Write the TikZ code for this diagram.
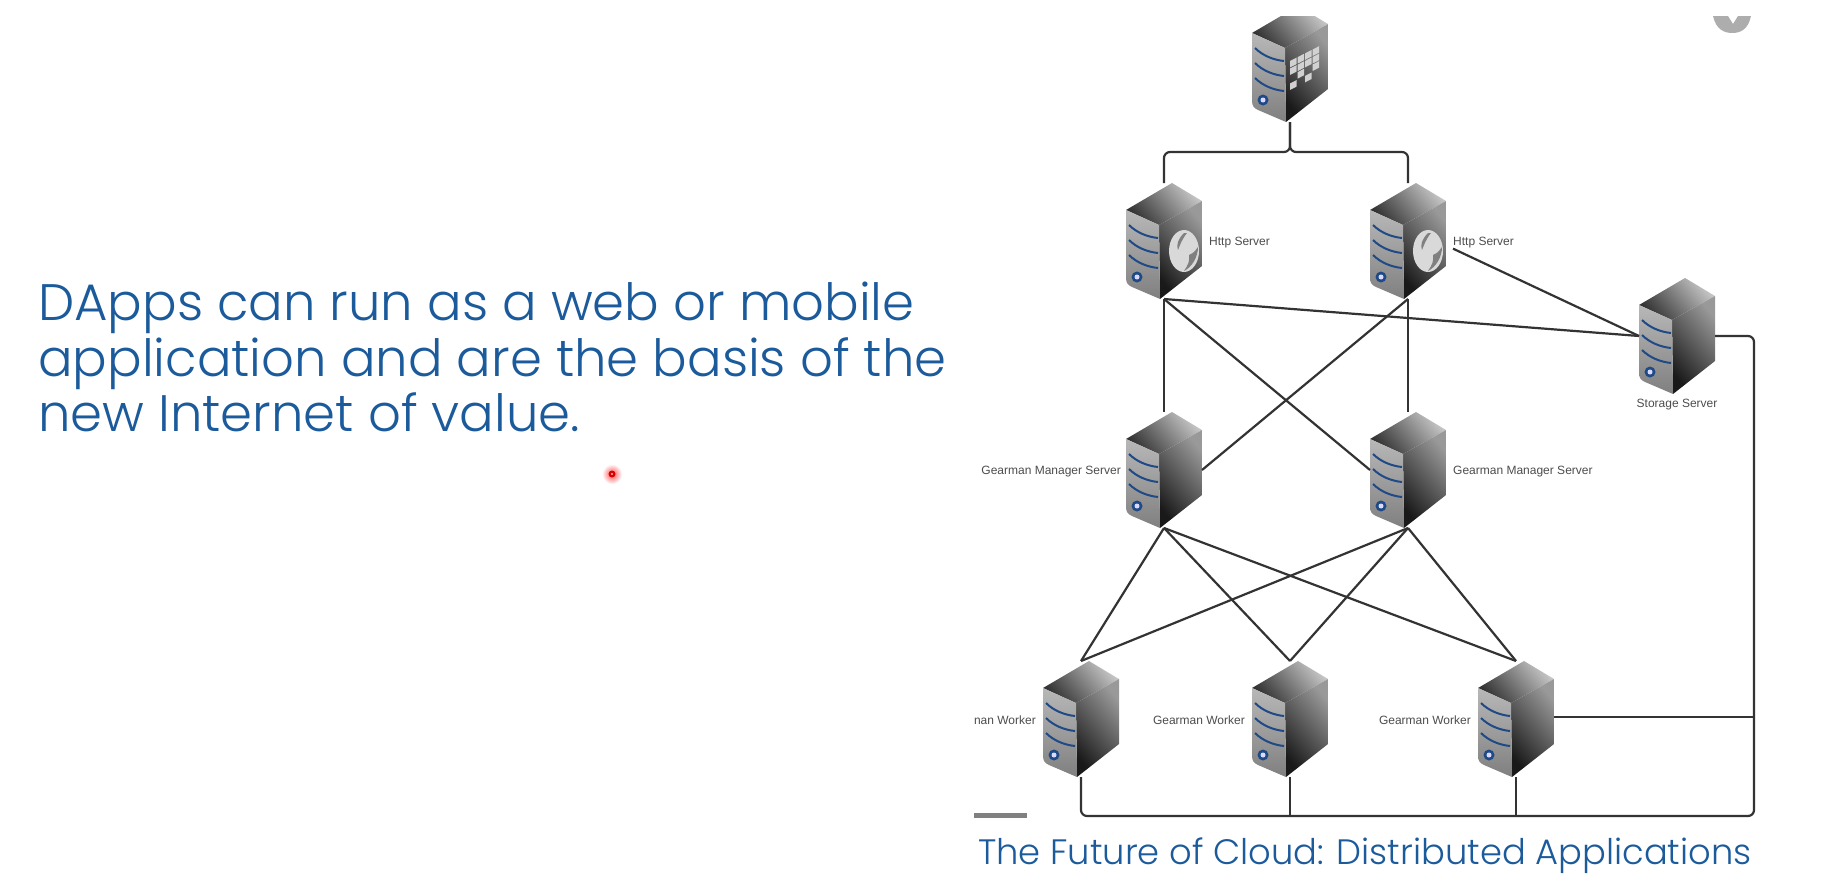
\documentclass[tikz,border=0pt]{standalone}
\usepackage{fontspec}
\setmainfont{Liberation Sans}
\newfontfamily\slidefont{Poppins Light}
\usetikzlibrary{positioning}
\definecolor{slideblue}{HTML}{1B5A9B}
\definecolor{stripeblue}{HTML}{1F4A86}
\definecolor{linkgray}{HTML}{333333}

% Body of one server, drawn around the centre of its node
\newcommand\serverbody{%
	\shade [top color=black!22,bottom color=black!80,shading angle=-50] (8,-58)--(-38,-31)--(-5,-16)--(38,-40)--cycle;
	\shade [top color=black!40,bottom color=black!90,shading angle=-50] (-5,-16)--(38,-40)--(38,25)--(-4,58)--cycle;
	\shade [top color=black!28,bottom color=black!50] (-38,-31)--(-38,37)..controls (-38,42) and (-36,44) .. (-32,46)--(-4,58)--(-5,-16)--cycle;
	\foreach \y in {-16,-1,14}
		\draw [stripeblue,line width=2] (-35,\y)..controls (-27,\y+8) and (-16,\y+12) .. (-6,\y+13);
	\fill [stripeblue] (-27,36) circle (5.5);
	\fill [white!85!blue] (-27,36) circle (2.5);
}
% Globe on the side of a http server
\newcommand\globeicon{%
	\fill [black!15,rotate around={18:(20,10)}] (20,10) ellipse (15 and 21);
	\fill [black!50] (20,-8)..controls (14,-2) and (12,4) .. (14,9)..controls (16,4) and (18,-2) .. (23,-8)--cycle;
	\fill [black!50] (25,14)..controls (30,12) and (32,9) .. (34,6)..controls (34,16) and (28,26) .. (20,30)..controls (24,24) and (26,20) .. (25,14)--cycle;
}
% Tiles on the side of the top server
\newcommand\tileicon{%
	\foreach \i/\j in {0/0,0/1,0/3,1/0,1/1,1/2,2/0,2/1,2/3,3/0,3/1,3/2}
		\fill [black!18] (0+7.5*\i,-3+7.5*\j-3.8*\i)--++(6.5,-3.4)--++(0,6.5)--++(-6.5,3.4)--cycle;
}

\tikzset{
	server/.style={minimum width=76,minimum height=116,inner sep=0,outer sep=0},
	plainserver/.style={server,path picture={\begin{scope}[shift={(path picture bounding box.center)}]\serverbody\end{scope}}},
	httpserver/.style={server,path picture={\begin{scope}[shift={(path picture bounding box.center)}]\serverbody\globeicon\end{scope}}},
	tileserver/.style={server,path picture={\begin{scope}[shift={(path picture bounding box.center)}]\serverbody\tileicon\end{scope}}},
	tag/.style={text=black!70,font=\fontsize{12}{14}\selectfont,inner sep=0,yshift=-2pt},
	workertag/.style={tag,yshift=1pt},
	link/.style={linkgray,line width=2.2},
	slidetext/.style={text=slideblue,inner sep=0,align=left,font=\slidefont\fontsize{51.3}{55.5}\selectfont}
}

\begin{document}
\begin{tikzpicture}[x=1pt,y=-1pt]
\useasboundingbox (0,0) rectangle (1825,886);

% Text of the slide
\node [slidetext,anchor=north west] (intro) at (38,282) {DApps can run as a web or mobile\\application and are the basis of the\\new Internet of value.};
\node [text=slideblue,inner sep=0,anchor=base west,font=\slidefont\fontsize{35.3}{40}\selectfont] (caption) at (978,864) {The Future of Cloud: Distributed Applications};

% Laser pointer
\shade [inner color=red!70,outer color=white] (612,474) circle (10);
\fill [red!85!black] (612,474) circle (3.5);
\fill [white!70!red] (612,474) circle (1.2);

% Servers
\node [tileserver] (top) at (1290,64) {};
\node [httpserver] (httpa) at (1164,241) {};
\node [httpserver] (httpb) at (1408,241) {};
\node [plainserver] (store) at (1677,336) {};
\node [plainserver] (mgra) at (1164,470) {};
\node [plainserver] (mgrb) at (1408,470) {};
\node [plainserver] (wa) at (1081,719) {};
\node [plainserver] (wb) at (1290,719) {};
\node [plainserver] (wc) at (1516,719) {};

% Names of the servers
\node [tag,right=7pt of httpa] (httpatag) {Http Server};
\node [tag,right=7pt of httpb] (httpbtag) {Http Server};
\node [tag,below=3pt of store] (storetag) {Storage Server};
\node [tag,left=5pt of mgra] (mgratag) {Gearman Manager Server};
\node [tag,right=7pt of mgrb] (mgrbtag) {Gearman Manager Server};
\node [workertag,left=7pt of wa] (watag) {nan Worker};
\node [workertag,left=7pt of wb] (wbtag) {Gearman Worker};
\node [workertag,left=7pt of wc] (wctag) {Gearman Worker};

% Top of the tree
\draw [link,rounded corners=6] (top.south)--++(0,30)-|(httpa.north);
\draw [link,rounded corners=6] (top.south)--++(0,30)-|(httpb.north);

% Http servers to managers and storage
\foreach \x in {httpa,httpb}
	\draw [link] (\x.south)--(\x.south|-mgra.north);
\draw [link] (httpa.south)--(mgrb.west);
\draw [link] (httpb.south)--(mgra.east);
\draw [link] (httpa.south)--(store.west);
\draw [link] (httpbtag.south west)--(store.west);

% Managers to workers
\foreach \x in {mgra,mgrb}
	\foreach \y in {wa,wb,wc}
		\draw [link] (\x.south)--(\y.north);

% Shared line round the workers
\coordinate (trunk) at (1754,816);
\coordinate (wcside) at (1554,717);
\draw [link,rounded corners=6] (store.east)-|(trunk)-|(wa.south);
\draw [link] (wcside)--(wcside-|trunk);
\foreach \x in {wb,wc}
	\draw [link] (\x.south)--(\x.south|-trunk);

% Grey bar, cut edge of the video and its button
\fill [black!50] (974,813) rectangle (1027,818);
\fill [white] (1040,0) rectangle (1825,16);
\fill [black!32] (1713,16)..controls (1716,30) and (1725,33) .. (1732,33)..controls (1740,33) and (1748,30) .. (1751,16)--(1738,16)--(1733,24)--(1728,16)--cycle;
\end{tikzpicture}
\end{document}
